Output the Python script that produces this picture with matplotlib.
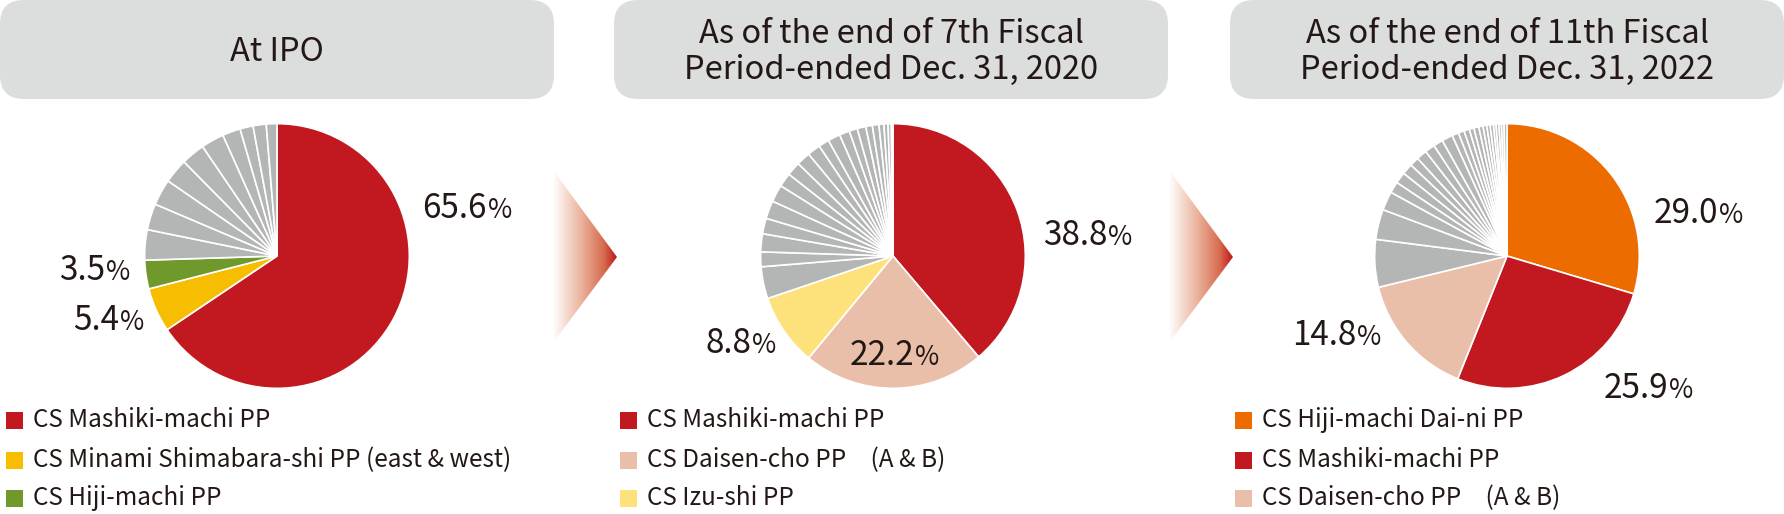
import numpy as np
import matplotlib
matplotlib.use("Agg")
import matplotlib.pyplot as plt
from matplotlib.patches import FancyBboxPatch, Polygon, Rectangle
from matplotlib.colors import LinearSegmentedColormap

plt.rcParams['font.family'] = ['Noto Sans CJK JP', 'DejaVu Sans']

# ---------------- data ----------------
titles = ["At IPO",
          "As of the end of 7th Fiscal\nPeriod-ended Dec. 31, 2020",
          "As of the end of 11th Fiscal\nPeriod-ended Dec. 31, 2022"]

ipo_labels = ["CS Mashiki-machi PP", "CS Minami Shimabara-shi PP (east & west)", "CS Hiji-machi PP"]
ipo_values = [65.6, 5.4, 3.5]
ipo_colors = ["#c1191f", "#f7bd00", "#6f9a2b"]
ipo_others = [3.7, 3.2, 3.2, 3.0, 2.9, 2.8, 2.2, 1.6, 1.6, 1.3]

p7_labels = ["CS Mashiki-machi PP", "CS Daisen-cho PP\u3000(A & B)", "CS Izu-shi PP"]
p7_values = [38.8, 22.2, 8.8]
p7_colors = ["#c1191f", "#e9bfa9", "#fde27b"]
p7_others = [3.9, 1.8, 2.2, 1.9, 2.2, 2.1, 1.7, 1.7, 1.7, 1.6, 1.3, 1.5,
             1.25, 1.0, 1.05, 0.8, 0.8, 0.6, 0.5, 0.4, 0.2]

p11_labels = ["CS Hiji-machi Dai-ni PP", "CS Mashiki-machi PP", "CS Daisen-cho PP\u3000(A & B)"]
p11_values = [29.0, 25.9, 14.8]
p11_colors = ["#ec6c00", "#c1191f", "#e9bfa9"]
p11_others = [5.7, 3.6, 2.25, 1.35, 1.35, 1.3, 1.1, 1.25, 1.2, 1.15, 1.3, 0.8,
              0.7, 0.65, 0.55, 0.6, 0.5, 0.45, 0.4, 0.4, 0.3, 0.35, 0.3, 0.3, 0.35]

gray = "#b4b5b5"
text_color = "#231815"

W, H = 1784, 514
fig = plt.figure(figsize=(W / 100, H / 100), dpi=100)
fig.patch.set_facecolor("white")

bg = fig.add_axes([0, 0, 1, 1])
bg.set_xlim(0, W)
bg.set_ylim(H, 0)
bg.axis("off")

# title boxes
for i, t in enumerate(titles):
    x0 = [0, 614, 1230][i]
    box = FancyBboxPatch((x0, 0), 554, 99, boxstyle="round,pad=0,rounding_size=24",
                         facecolor="#dcdddd", edgecolor="none")
    bg.add_patch(box)
    bg.text(x0 + 277, 52, t, ha="center", va="center", fontsize=23.5,
            color=text_color, linespacing=1.15)

# gradient arrows
cmap = LinearSegmentedColormap.from_list("arr", [(0, "#ffffff"), (0.45, "#eab19a"),
                                                  (0.8, "#d66a4c"), (1, "#c0161f")])
grad = np.linspace(0, 1, 256).reshape(1, -1)
for ax_x in [553, 1169]:
    tri = Polygon([[ax_x, 170], [ax_x + 64, 257], [ax_x, 343]], closed=True,
                  facecolor="none", edgecolor="none")
    bg.add_patch(tri)
    im = bg.imshow(grad, cmap=cmap, extent=[ax_x, ax_x + 64, 343, 170],
                   aspect="auto", interpolation="bicubic")
    im.set_clip_path(tri)
bg.set_xlim(0, W)
bg.set_ylim(H, 0)

# pies
pies = [(ipo_values, ipo_colors, ipo_others, (277, 256)),
        (p7_values, p7_colors, p7_others, (893, 256)),
        (p11_values, p11_colors, p11_others, (1507, 256))]
R = 133
for vals, cols, others, (cx, cy) in pies:
    ax = fig.add_axes([(cx - R) / W, (H - cy - R) / H, 2 * R / W, 2 * R / H])
    ax.pie(list(vals) + list(others), colors=list(cols) + [gray] * len(others),
           startangle=90, counterclock=False,
           wedgeprops=dict(edgecolor="white", linewidth=1.2))
    ax.set_xlim(-1.005, 1.005)
    ax.set_ylim(-1.005, 1.005)
    ax.set_aspect("equal")
    ax.axis("off")

# overlay for labels
ov = fig.add_axes([0, 0, 1, 1], facecolor="none")
ov.set_xlim(0, W)
ov.set_ylim(H, 0)
ov.axis("off")

pct_pos = [
    (ipo_values, [(487, 218), (119, 330), (105, 280)]),
    (p7_values, [(1107, 245), (914, 365), (751, 353)]),
    (p11_values, [(1718, 223), (1668, 398), (1356, 345)]),
]
for vals, poss in pct_pos:
    for v, (sx, by) in zip(vals, poss):
        ov.text(sx, by, f"{v:.1f}", ha="right", va="baseline", fontsize=24, color=text_color)
        ov.text(sx + 1, by, "%", ha="left", va="baseline", fontsize=19, color=text_color)

# legends
legend_sets = [(ipo_labels, ipo_colors, 6), (p7_labels, p7_colors, 620), (p11_labels, p11_colors, 1235)]
rows = [420, 460, 498]
for labels, cols, lx in legend_sets:
    for lab, c, ry in zip(labels, cols, rows):
        ov.add_patch(Rectangle((lx, ry - 8.5), 17, 17, facecolor=c, edgecolor="none"))
        ov.text(lx + 27, ry, lab, ha="left", va="center", fontsize=17.5, color=text_color)

fig.savefig("out.png", dpi=100)
